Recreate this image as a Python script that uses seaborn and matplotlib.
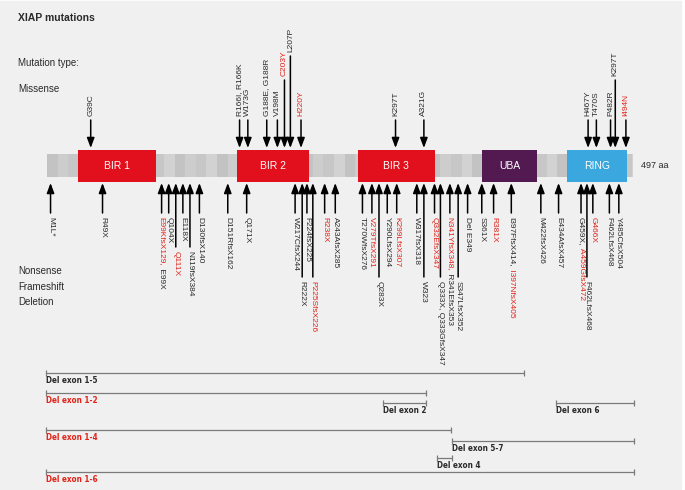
import numpy as np
import matplotlib
matplotlib.use('Agg')
import matplotlib.pyplot as plt
from matplotlib.patches import Rectangle
import seaborn as sns

# protein + domains (aa)
protein_len = 497
domain_names = ['BIR 1', 'BIR 2', 'BIR 3', 'UBA', 'RING']
domain_start = [27, 162, 264, 369, 441]
domain_end = [93, 223, 329, 416, 492]
domain_colors = ['#e1101c', '#e1101c', '#e1101c', '#521a50', '#3aa8de']

# missense mutations (arrows above the protein)
mis_pos = [38, 164, 171, 187, 196, 202, 207, 216, 296, 320, 459, 466, 478, 482, 491]
mis_labels = ['G39C', 'R166I, R166K', 'W173G', 'G188E, G188R', 'V198M', 'C203Y', 'L207P',
              'H220Y', 'K297T', 'A321G', 'H467Y', 'T470S', 'P482R', 'K297T', 'I494N']
mis_red = [0, 0, 0, 0, 0, 1, 0, 1, 0, 0, 0, 0, 0, 0, 1]
mis_tier = [0, 0, 0, 0, 0, 1, 2, 0, 0, 0, 0, 0, 0, 1, 0]

# nonsense / frameshift / deletion (arrows below the protein)
bot_pos = [4, 48, 98, 104, 110, 116, 122, 130, 154, 170, 211, 217, 221, 226, 236, 245,
           268, 276, 282, 289, 297, 314, 320, 329, 334, 342, 349, 357, 369, 379, 394,
           419, 434, 453, 458, 463, 477, 485]
bot_first = ['M1L*', 'R49X', 'E99KfsX129,', 'Q104X', 'Q111X', 'E118X', 'N119fsX384',
             'D130fsX140', 'D151RfsX162', 'Q171X', 'W217CfsX244', 'R222X', 'F224fsX225',
             'P225SfsX226', 'R238X', 'A243AfsX285', 'T270WfsX276', 'V279TfsX291', 'Q283X',
             'Y290LfsX294', 'K299LfsX307', 'W317fsX318', 'W323', 'Q332EfsX347',
             'Q333X, Q333GfsX347', 'N341YfsX348,', 'S347LfsX352', 'Del E349', 'S361X',
             'R381X', 'I397FfsX414,', 'M422fsX426', 'E434AfsX457', 'G459X,', 'F462LfsX468',
             'G466X', 'F462LfsX468', 'Y485CfsX504']
bot_second = ['', '', ' E99X', '', '', '', '', '', '', '', '', '', '', '', '', '',
              '', '', '', '', '', '', '', '', '', ' R341EfsX353', '', '', '', '', ' I397NfsX405',
              '', '', ' A459GfsX472', '', '', '', '']
bot_red = [0, 0, 1, 0, 1, 0, 0, 0, 0, 0, 0, 0, 0, 1, 1, 0,
           0, 1, 0, 0, 1, 0, 0, 1, 0, 1, 0, 0, 0, 1, 0,
           0, 0, 0, 0, 1, 0, 0]
bot_tier = [0, 0, 0, 0, 1, 0, 1, 0, 0, 0, 0, 2, 0, 2, 0, 0,
            0, 0, 2, 0, 0, 0, 2, 0, 2, 0, 2, 0, 0, 0, 0,
            0, 0, 0, 2, 0, 0, 0]

# large deletions (aa ranges)
del_labels = ['Del exon 1-5', 'Del exon 1-2', 'Del exon 2', 'Del exon 6',
              'Del exon 1-4', 'Del exon 5-7', 'Del exon 4', 'Del exon 1-6']
del_start = [0, 0, 285, 432, 0, 344, 331, 0]
del_end = [405, 322, 322, 498, 343, 498, 344, 498]
del_red = [0, 1, 0, 0, 1, 0, 0, 1]
del_row = [373, 393, 403, 403, 430, 440.5, 458, 472]  # layout rows (px)

RED = '#e2231a'
INK = '#2a2a2a'

sns.set_style('white')
plt.rcParams['font.family'] = ['Liberation Sans', 'DejaVu Sans']

fig = plt.figure(figsize=(6.85, 4.9), dpi=100)
ax = fig.add_axes([0, 0, 1, 1])


def px(x):
    # page pixel -> aa coordinate
    return 1 + (x - 47) * (protein_len - 1) / 586.0


ax.set_xlim(px(0), px(685))
ax.set_ylim(490, 0)
ax.axis('off')
ax.add_patch(Rectangle((0, 0.003), 0.994, 0.994, transform=ax.transAxes,
                       color='#f0f0f0', zorder=0))

ax.text(px(18), 18, 'XIAP mutations', fontsize=7.5, fontweight='bold', color=INK, va='center')
ax.text(px(18), 63, 'Mutation type:', fontsize=7, color=INK, va='center')
ax.text(px(18), 89, 'Missense', fontsize=7, color=INK, va='center')
for i, t in enumerate(['Nonsense', 'Frameshift', 'Deletion']):
    ax.text(px(18), 271 + 15.5 * i, t, fontsize=7, color=INK, va='center')

# backbone with stripes
edges = np.arange(1, protein_len, 9)
shades = ['#c3c3c3', '#cdcdcd', '#c7c7c7', '#d2d2d2']
for k, e0 in enumerate(edges):
    e1 = min(e0 + 9, protein_len)
    ax.add_patch(Rectangle((e0, 154), e1 - e0, 23, color=shades[k % 4], lw=0, zorder=1))
ax.text(protein_len + 7, 165.5, '497 aa', fontsize=6.5, color=INK, va='center')

for name, s, e, c in zip(domain_names, domain_start, domain_end, domain_colors):
    ax.add_patch(Rectangle((s, 149.5), e - s, 32, color=c, lw=0, zorder=2))
    ax.text((s + e) / 2, 166, name, color='white', fontsize=7.5, ha='center', va='center', zorder=3)

arrow_kw = dict(arrowstyle='-|>,head_length=0.75,head_width=0.28', color='black',
                lw=1.1, shrinkA=0, shrinkB=0, mutation_scale=8)
FS = 6.0

mis_top = {0: 120, 1: 80, 2: 56}
for x, lab, red, tier in zip(mis_pos, mis_labels, mis_red, mis_tier):
    y0 = mis_top[tier]
    ax.annotate('', xy=(x, 148), xytext=(x, y0), arrowprops=arrow_kw, zorder=4)
    ax.text(x, y0 - 4, lab, rotation=90, fontsize=FS, ha='center', va='bottom',
            color=RED if red else INK)

bot_end = {0: 213, 1: 247, 2: 277}
for x, a, b, red, tier in zip(bot_pos, bot_first, bot_second, bot_red, bot_tier):
    y1 = bot_end[tier]
    ax.annotate('', xy=(x, 183), xytext=(x, y1), arrowprops=arrow_kw, zorder=4)
    t1 = ax.text(x, y1 + 4, a, rotation=270, fontsize=FS, ha='center', va='top',
                 color=RED if red else INK)
    if b:
        ax.annotate(b, xy=(0.5, 0), xycoords=t1, rotation=270, fontsize=FS,
                    ha='center', va='top', color=INK if red else RED)

for lab, s, e, red, y in zip(del_labels, del_start, del_end, del_red, del_row):
    ax.plot([s, e], [y, y], color='#7a7a7a', lw=0.9, marker='|', markersize=4.5,
            markeredgewidth=0.9, zorder=2)
    ax.text(s, y + 3, lab, fontsize=5.9, va='top', ha='left',
            color=RED if red else INK, family='DejaVu Sans',
            fontstretch='condensed', fontweight='bold')

fig.savefig('out.png', dpi=100)
